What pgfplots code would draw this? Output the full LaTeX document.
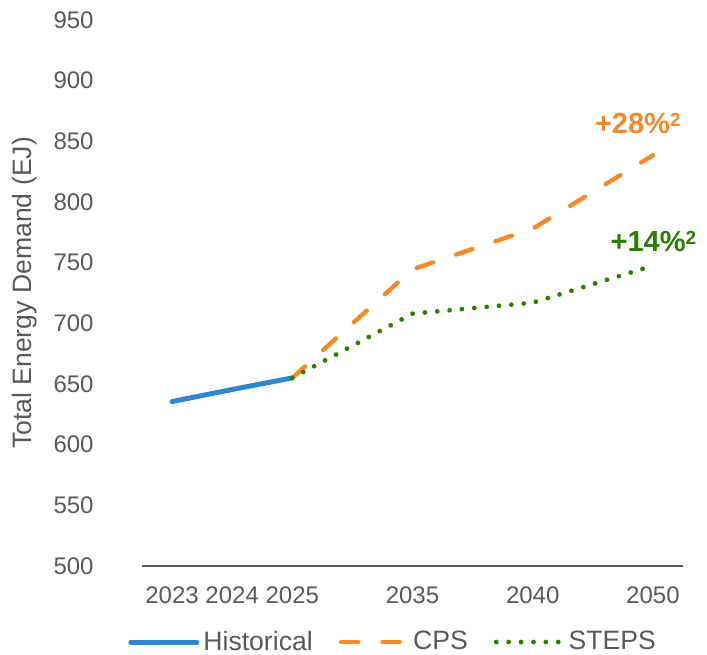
\documentclass[border=0pt]{standalone}
\usepackage{fontspec}
\setmainfont{Liberation Sans}
\usepackage{pgfplots}
\pgfplotsset{compat=1.18}

\definecolor{txtgray}{HTML}{595959}
\definecolor{histblue}{HTML}{2E86D1}
\definecolor{cpsorange}{HTML}{F5892A}
\definecolor{stepsgreen}{HTML}{2A7F00}

\begin{document}
\begin{tikzpicture}
\useasboundingbox (-71pt,-44pt) rectangle (282.5pt,283pt);
\begin{axis}[
    scale only axis,
    width=270.5pt,
    height=273pt,
    xmin=-0.5, xmax=8.5,
    ymin=500, ymax=950,
    xtick={0,1,2,4,6,8},
    xticklabels={2023,2024,2025,2035,2040,2050},
    ytick={500,550,...,950},
    major tick length=0pt,
    axis line style={draw=none},
    /pgf/number format/assume math mode=true,
    every tick label/.append style={font=\fontsize{12}{14}\selectfont, text=txtgray, inner sep=0pt},
    yticklabel style={xshift=-24pt},
    xticklabel style={anchor=north, yshift=-10.3pt},
    ylabel={Total Energy Demand (EJ)},
    ylabel style={at={(axis description cs:-0.2163,0.5)}, anchor=center,
        font=\fontsize{13.3}{15}\selectfont, text=txtgray},
    legend columns=3,
    legend style={at={(rel axis cs:0,0)}, anchor=west, xshift=-10pt, yshift=-38pt,
        draw=none, fill=none, font=\fontsize{13.3}{15}\selectfont, text=txtgray,
        /tikz/every even column/.append style={column sep=11pt}},
    legend image code/.code={\draw[#1] (0pt,0pt) -- (33pt,0pt);},
    clip=false,
]
\draw[txtgray, line width=1pt] (rel axis cs:0,0) -- (rel axis cs:1,0);

\addplot[histblue, line width=2.5pt, line cap=round] coordinates {
    (0,635.5) (1,645.5) (2,655)
};
\addlegendentry{Historical}

\addplot[cpsorange, line width=2.2pt, line cap=round, dash pattern=on 8.6pt off 12.2pt] coordinates {
    (2,655) (4,744.5) (6,778) (8,838.5)
};
\addlegendentry{CPS}

\addplot[stepsgreen, line width=2.4pt, line cap=round, dash pattern=on 0pt off 6.2pt] coordinates {
    (2,655) (4,708) (6,717) (8,747.5)
};
\addlegendentry{STEPS}

\node[anchor=base west, inner sep=0pt, text=cpsorange, font=\fontsize{14.5}{16}\selectfont\bfseries]
    at (axis cs:7.03,856.6) {+28\%\raisebox{3.6pt}{\fontsize{9.5}{9.5}\selectfont 2}};
\node[anchor=base west, inner sep=0pt, text=stepsgreen, font=\fontsize{14.5}{16}\selectfont\bfseries]
    at (axis cs:7.29,759) {+14\%\raisebox{3.6pt}{\fontsize{9.5}{9.5}\selectfont 2}};
\end{axis}
\end{tikzpicture}
\end{document}
